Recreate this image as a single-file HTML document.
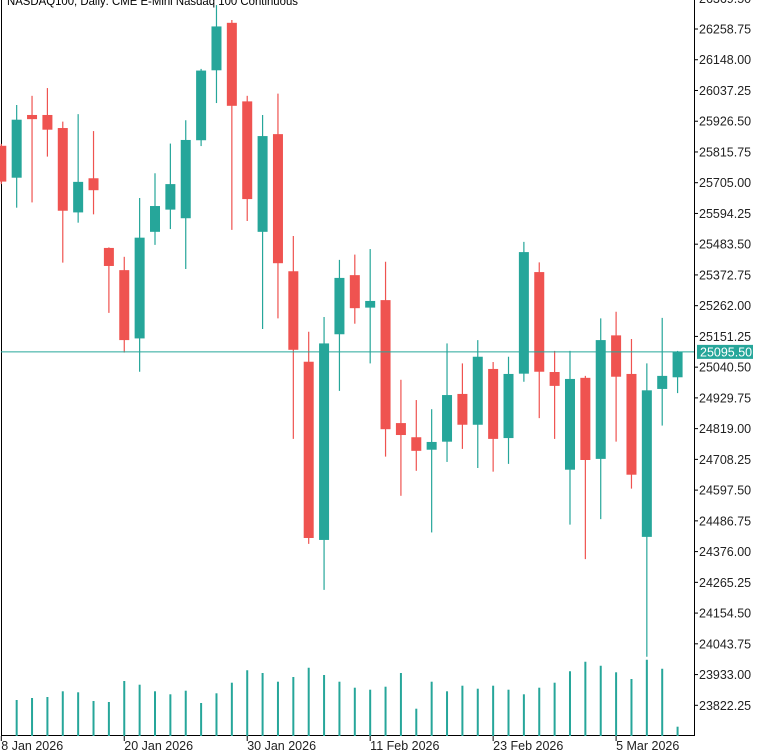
<!DOCTYPE html>
<html><head><meta charset="utf-8"><style>
html,body{margin:0;padding:0;background:#fff;}
svg{display:block;}
text{font-family:"Liberation Sans",sans-serif;}
</style></head><body>
<svg id="chart" width="768" height="750" viewBox="0 0 768 750" xmlns="http://www.w3.org/2000/svg">
<rect x="0" y="0" width="768" height="750" fill="#fff"/>
<line x1="1.5" y1="0" x2="1.5" y2="736" stroke="#000" stroke-width="1"/>
<line x1="694.5" y1="0" x2="694.5" y2="736" stroke="#000" stroke-width="1"/>
<line x1="1" y1="735.5" x2="695" y2="735.5" stroke="#000" stroke-width="1"/>
<g id="vols"></g>
<g id="candles"></g>
<g id="yaxis"></g>
<g id="xaxis"></g>
<text x="7" y="5" font-size="12" fill="#000" textLength="291" lengthAdjust="spacingAndGlyphs">NASDAQ100, Daily:  CME E-Mini Nasdaq 100 Continuous</text>
</svg>
<script>
const opens  = [25838,25723,25949,25949,25902,25598,25721,25470,25390,25144,25528,25608,25577,25858,26110,26281,25998,25528,25880,25386,25060,24418,25159,25372,25255,25282,24839,24788,24743,24772,24944,24833,25034,24785,25017,25383,25023,24671,25002,24710,25155,25016,24429,24962,25004];
const highs  = [25845,25985,26018,26046,25925,25952,25891,25472,25438,25650,25739,25846,25930,26115,26345,26291,26018,25949,26026,25513,25168,25221,25427,25446,25466,25420,24995,24922,24889,25126,25054,25138,25059,25078,25492,25418,25099,25099,25009,25216,25240,25142,25054,25218,25099];
const lows   = [25700,25615,25634,25799,25417,25561,25591,25236,25093,25024,25481,25538,25394,25837,25992,25535,25567,25178,25216,24782,24404,24238,24955,25197,25054,24718,24577,24667,24445,24699,24746,24677,24664,24692,24988,24857,24782,24473,24349,24493,24772,24603,23997,24830,24947];
const closes = [25709,25932,25934,25896,25604,25708,25678,25405,25138,25507,25621,25700,25859,26109,26268,25982,25646,25873,25415,25103,24425,25126,25362,25253,25279,24817,24796,24739,24771,24940,24833,25078,24782,25016,25455,25024,24973,24998,24706,25138,25006,24653,24957,25009,25095.5];
const volumes= [0,360,380,390,447,437,350,340,550,513,447,417,453,330,427,533,657,630,543,590,683,610,543,483,463,493,630,273,543,447,503,473,503,463,417,483,533,647,743,703,637,570,763,673,93];
const priceTicks = ["26369.50","26258.75","26148.00","26037.25","25926.50","25815.75","25705.00","25594.25","25483.50","25372.75","25262.00","25151.25","25040.50","24929.75","24819.00","24708.25","24597.50","24486.75","24376.00","24265.25","24154.50","24043.75","23933.00","23822.25"];
const dateLabels = ["8 Jan 2026","20 Jan 2026","30 Jan 2026","11 Feb 2026","23 Feb 2026","5 Mar 2026"];
const dateIndex  = [0,8,16,24,32,40];
const currentPrice = 25095.5;

const NS="http://www.w3.org/2000/svg";
const GREEN="#26a69a", RED="#ef5350";
function xAt(i){ return 1.3 + 15.37*i; }
function yAt(p){ return 29 + (26258.75 - p)*0.27757; }
function vAt(v){ return 736 - v/10; }
function mk(tag, attrs, parent){ const e=document.createElementNS(NS,tag); for(const k in attrs) e.setAttribute(k,attrs[k]); parent.appendChild(e); return e; }

const cg=document.getElementById('candles');
const vg=document.getElementById('vols');
for(let i=0;i<opens.length;i++){
  const x=xAt(i), up=closes[i]>=opens[i], col=up?GREEN:RED;
  const w=mk('line',{x1:x,x2:x,y1:yAt(highs[i]),y2:yAt(lows[i]),stroke:col,'stroke-width':1.2},cg);
  
  
  const top=yAt(Math.max(opens[i],closes[i])), bot=yAt(Math.min(opens[i],closes[i]));
  const b=mk('rect',{x:x-5,y:top,width:10,height:Math.max(1,bot-top),fill:col},cg);
  
  
  if(volumes[i]>0){
    const v=mk('line',{x1:x,x2:x,y1:vAt(volumes[i]),y2:736,stroke:GREEN,'stroke-width':2},vg);
    
    
  }
}
// current price line
const cy=yAt(currentPrice);
const pl=mk('line',{x1:1,x2:694,y1:cy,y2:cy,stroke:GREEN,'stroke-width':1},cg);



const yg=document.getElementById('yaxis');
priceTicks.forEach(t=>{
  const y=yAt(parseFloat(t));
  const tk=mk('line',{x1:694,x2:698,y1:y,y2:y,stroke:'#000','stroke-width':1},yg);
  
  
  const tx=mk('text',{x:699,y:y+4.5,'font-size':12.5,fill:'#222'},yg);
  tx.textContent=t;
  
  
});
const box=mk('rect',{x:697,y:cy-7,width:56,height:14,fill:GREEN},yg);


const bt=mk('text',{x:700,y:cy+4.5,'font-size':12.5,fill:'#fff'},yg);
bt.textContent=currentPrice.toFixed(2);



const xg=document.getElementById('xaxis');
dateLabels.forEach((d,k)=>{
  const x=xAt(dateIndex[k]);
  const tk=mk('line',{x1:x,x2:x,y1:736,y2:741,stroke:'#000','stroke-width':1},xg);
  
  
  const tx=mk('text',{x:x,y:750,'font-size':12.5,fill:'#222'},xg);
  tx.textContent=d;
  
  
});
</script>
</body></html>
